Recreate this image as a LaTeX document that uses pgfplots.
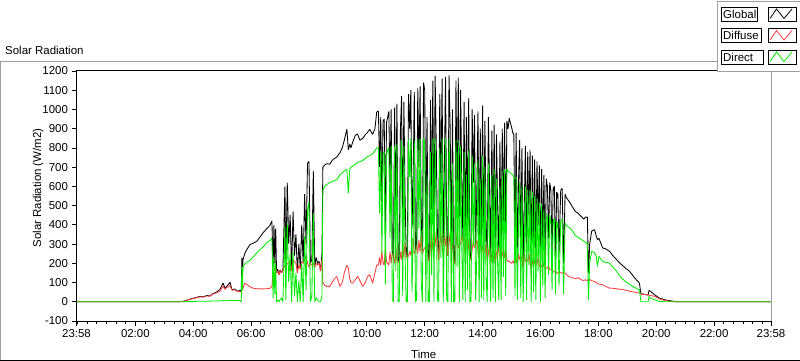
\documentclass[border=0pt]{standalone}
\usepackage{fontspec}
\setmainfont{Liberation Sans}
\usepackage{pgfplots}
\pgfplotsset{compat=1.18}
\usepackage{pgfplotstable}
\definecolor{diffred}{RGB}{255,64,64}
\definecolor{dirgreen}{RGB}{0,235,0}
\definecolor{framegray}{RGB}{160,160,160}

\pgfplotstableread{
h G Df Dr
-0.0333 0 0 0
3.50 0 0 0
3.64 2 2 0
3.75 6 6 1
3.89 14 13 2
4.05 20 18 2
4.23 28 26 3
4.35 25 24 3
4.47 33 30 3
4.58 30 29 3
4.68 42 40 4
4.80 50 46 4
4.92 63 55 5
5.03 97 80 6
5.10 70 65 5
5.16 80 74 6
5.27 101 85 8
5.34 63 60 6
5.44 66 62 7
5.54 54 52 6
5.62 60 55 6
5.66 50 50 0
5.68 228 63 180
5.70 140 62 60
5.72 219 70 184
5.78 250 97 195
5.85 271 90 205
5.96 297 78 215
6.08 305 70 235
6.20 315 68 255
6.30 335 67 270
6.41 358 67 285
6.53 378 68 305
6.65 397 70 318
6.72 420 80 330
6.76 180 150 20
6.79 400 170 230
6.82 200 170 40
6.85 380 180 200
6.88 150 150 0
6.92 170 160 10
6.96 140 140 0
7.00 165 160 10
7.05 150 150 20
7.10 170 165 0
7.17 600 190 390
7.20 180 170 10
7.25 620 200 410
7.30 300 200 100
7.35 450 210 250
7.40 160 160 0
7.45 470 220 260
7.50 240 210 30
7.55 350 200 150
7.60 150 150 0
7.65 300 190 110
7.70 170 170 0
7.75 400 210 200
7.80 200 200 0
7.85 560 220 340
7.90 300 240 60
7.95 720 200 480
8.00 730 180 520
8.05 200 200 0
8.10 220 190 30
8.15 680 200 460
8.20 180 180 0
8.25 230 200 20
8.30 200 190 10
8.35 210 200 0
8.40 160 160 0
8.45 250 220 30
8.48 700 100 580
8.55 712 85 600
8.62 718 80 610
8.72 715 80 620
8.80 735 100 625
8.88 745 120 630
8.96 752 132 635
9.07 775 80 660
9.15 800 100 670
9.22 840 150 680
9.31 897 190 690
9.36 790 175 565
9.41 820 120 690
9.45 800 100 700
9.51 830 97 705
9.60 865 115 715
9.68 872 132 725
9.76 840 110 728
9.86 850 80 735
9.95 870 100 745
10.02 880 130 755
10.10 897 141 760
10.20 870 97 770
10.28 900 150 785
10.34 986 190 800
10.37 990 193 800
10.40 990 190 800
10.44 700 230 460
10.48 960 190 780
10.52 520 260 250
10.56 940 200 770
10.60 950 190 780
10.64 380 280 90
10.68 930 210 760
10.72 960 200 790
10.76 990 190 800
10.80 600 260 330
10.84 1000 200 810
10.88 260 250 10
10.92 240 235 0
10.96 1010 200 810
11.00 450 290 160
11.04 1030 210 820
11.08 220 215 0
11.12 200 200 0
11.16 890 260 620
11.20 1070 220 840
11.24 330 300 30
11.28 1040 230 810
11.32 560 310 250
11.36 250 245 0
11.40 230 225 0
11.44 1080 240 840
11.48 900 260 650
11.52 1100 240 850
11.56 380 330 50
11.60 640 320 320
11.64 1090 250 840
11.68 270 265 0
11.72 300 290 10
11.76 1110 250 850
11.80 700 320 380
11.84 1120 260 850
11.88 440 340 100
11.92 250 248 0
11.96 1140 270 850
12.00 1100 280 820
12.04 300 295 0
12.08 960 300 660
12.12 230 228 0
12.16 210 208 0
12.20 1050 290 780
12.24 480 360 140
12.28 1150 270 850
12.32 280 275 0
12.36 1175 290 850
12.40 800 370 470
12.44 330 320 10
12.48 220 215 0
12.52 1080 300 800
12.56 560 350 230
12.60 1160 280 850
12.64 260 255 0
12.68 700 380 360
12.72 1170 290 850
12.76 350 340 10
12.80 240 238 0
12.84 1178 300 850
12.88 900 360 580
12.92 260 255 0
12.96 1000 310 720
13.00 210 208 0
13.04 200 198 0
13.08 1150 290 840
13.12 520 360 180
13.16 1165 280 840
13.20 300 295 0
13.24 1100 300 810
13.28 640 350 300
13.32 320 315 10
13.36 1040 290 780
13.40 250 248 0
13.44 960 310 660
13.48 400 340 60
13.52 1060 280 790
13.56 230 228 0
13.60 220 218 0
13.64 1000 270 760
13.68 620 320 290
13.72 970 280 720
13.76 300 295 10
13.80 560 320 240
13.84 990 270 740
13.88 230 228 0
13.92 900 290 640
13.96 340 320 20
14.00 1020 270 760
14.04 260 250 10
14.08 940 260 700
14.12 420 300 120
14.16 220 215 0
14.20 960 250 720
14.24 600 300 300
14.28 200 198 0
14.32 890 250 660
14.36 310 290 20
14.40 920 250 690
14.44 190 188 0
14.48 870 250 640
14.52 480 290 190
14.56 270 255 10
14.60 830 240 600
14.64 230 220 10
14.68 900 240 680
14.72 420 280 130
14.76 930 230 690
14.80 300 270 30
14.84 940 220 690
14.88 900 210 680
14.92 955 210 675
14.96 930 205 670
15.00 910 200 665
15.04 880 210 660
15.08 870 200 650
15.12 300 250 30
15.16 880 220 650
15.20 200 190 10
15.24 620 250 380
15.28 840 220 620
15.32 260 240 20
15.36 800 220 600
15.40 180 178 0
15.44 500 250 240
15.48 810 210 600
15.52 230 220 10
15.56 780 210 580
15.60 450 250 190
15.64 790 200 585
15.68 170 168 0
15.72 760 200 570
15.76 290 230 50
15.80 740 200 550
15.84 200 190 10
15.88 730 195 540
15.92 400 230 160
15.96 710 190 520
16.00 180 178 0
16.04 690 185 510
16.08 300 210 80
16.12 660 180 480
16.16 190 175 20
16.20 640 175 460
16.24 600 175 430
16.28 330 190 140
16.32 620 165 450
16.36 580 165 415
16.40 240 170 60
16.44 590 155 425
16.48 600 155 430
16.52 210 160 40
16.56 570 150 415
16.60 560 150 410
16.64 250 155 80
16.70 580 150 420
16.75 590 150 430
16.80 200 150 40
16.85 560 150 410
16.90 540 140 395
17.00 520 130 385
17.10 495 125 370
17.20 470 120 345
17.30 460 125 335
17.40 445 115 325
17.50 430 110 315
17.55 440 115 310
17.62 440 110 300
17.66 150 118 10
17.70 300 115 200
17.77 367 110 262
17.87 375 105 255
17.93 340 100 236
17.97 323 95 184
18.02 330 92 236
18.15 280 88 210
18.25 275 80 205
18.39 262 71 201
18.50 240 70 180
18.63 219 68 160
18.75 200 65 132
18.90 180 62 110
19.08 158 55 90
19.25 125 50 75
19.42 97 45 62
19.47 42 40 0
19.60 38 38 0
19.72 35 36 0
19.75 59 34 28
19.80 54 33 19
19.95 36 28 10
20.11 19 15 2
20.30 10 7 0
20.50 5 2 0
20.70 0 0 0
23.9667 0 0 0
}\solar

\begin{document}
\begin{tikzpicture}[font=\fontsize{11.5}{13}\selectfont]
\useasboundingbox (0,0) rectangle (800bp,361bp);
\fill[white] (0,0) rectangle (800bp,361bp);
\draw[framegray, line width=1bp] (0.5bp,0) -- (0.5bp,299bp) -- (717.5bp,299bp);
\draw[black, line width=1bp] (0,0.5bp) -- (800bp,0.5bp);
\node[anchor=base west, inner sep=0pt] at (5bp,306bp) {Solar Radiation};
\begin{axis}[
  name=ax,
  at={(76.5bp,40bp)}, anchor=south west,
  scale only axis, width=694.5bp, height=250bp,
  xmin=-0.0333, xmax=23.9667, ymin=-100, ymax=1200,
  xtick={-0.0333,2,4,6,8,10,12,14,16,18,20,22,23.9667},
  xticklabels={23:58,02:00,04:00,06:00,08:00,10:00,12:00,14:00,16:00,18:00,20:00,22:00,23:58},
  minor xtick={0,0.333333,...,23.8},
  ytick={-100,0,100,200,300,400,500,600,700,800,900,1000,1100,1200},
  yticklabels={-100,0,100,200,300,400,500,600,700,800,900,1000,1100,1200},
  tick align=outside, major tick length=5bp, minor tick length=3bp,
  xtick pos=left, ytick pos=left,
  tick style={black, line width=0.8bp},
  axis line style={black, line width=1bp},
  ticklabel style={font=\fontsize{11.5}{13}\selectfont},
  xlabel={Time}, ylabel={Solar Radiation (W/m2)},
  every axis x label/.style={at={(axis description cs:0.5,0)}, anchor=base, yshift=-37bp, font=\fontsize{11.5}{13}\selectfont},
  every axis y label/.style={at={(axis description cs:-0.0511,0.532)}, rotate=90, anchor=base, font=\fontsize{11.5}{13}\selectfont},
]
\addplot[black, line width=0.85bp, line join=bevel] table[x=h,y=G]{\solar};
\addplot[diffred, line width=0.85bp, line join=bevel] table[x=h,y=Df]{\solar};
\addplot[dirgreen, line width=0.85bp, line join=bevel] table[x=h,y=Dr]{\solar};
\end{axis}
\draw[framegray, line width=1bp] (ax.south east) -- (ax.north east);
% legend
\fill[white] (717.5bp,289.5bp) rectangle (800bp,359.5bp);
\draw[framegray, line width=1bp] (800bp,359.5bp) -- (717.5bp,359.5bp) -- (717.5bp,289.5bp) -- (800bp,289.5bp);
\draw[black, line width=0.8bp] (721bp,340bp) rectangle (757bp,354bp);
\node[anchor=west, inner sep=0pt] at (723bp,347bp) {Global};
\draw[black, line width=0.8bp] (768bp,340bp) rectangle (796bp,354bp);
\draw[black, line width=0.8bp] (770bp,342.5bp) -- (776.5bp,352bp) -- (784bp,342.5bp) -- (792bp,352bp);
\draw[black, line width=0.8bp] (721bp,318.5bp) rectangle (761bp,332.5bp);
\node[anchor=west, inner sep=0pt] at (723bp,325.5bp) {Diffuse};
\draw[black, line width=0.8bp] (768bp,318.5bp) rectangle (796bp,332.5bp);
\draw[diffred, line width=0.8bp] (770bp,321bp) -- (776.5bp,330.5bp) -- (784bp,321bp) -- (792bp,330.5bp);
\draw[black, line width=0.8bp] (721bp,297bp) rectangle (763bp,311bp);
\node[anchor=west, inner sep=0pt] at (723bp,304bp) {Direct};
\draw[black, line width=0.8bp] (768bp,297bp) rectangle (796bp,311bp);
\draw[dirgreen, line width=0.8bp] (770bp,299.5bp) -- (776.5bp,309bp) -- (784bp,299.5bp) -- (792bp,309bp);
\end{tikzpicture}
\end{document}
